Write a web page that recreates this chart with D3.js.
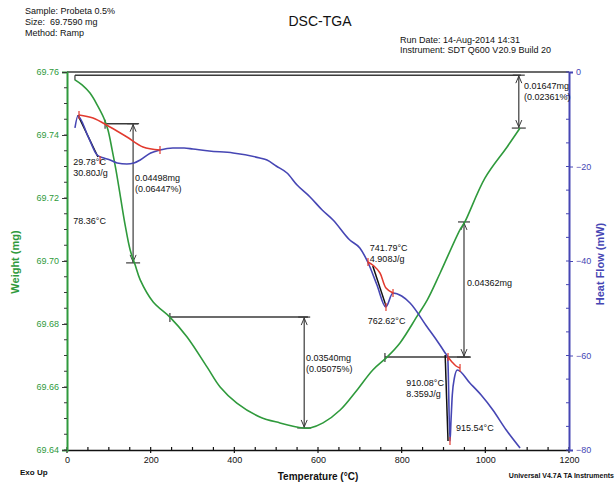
<!DOCTYPE html>
<html><head><meta charset="utf-8">
<script src="https://cdn.jsdelivr.net/npm/d3@7"></script>
<style>
html,body{margin:0;padding:0;background:#fff;}
svg{display:block;font-family:"Liberation Sans",Arial,sans-serif;}
</style></head>
<body><svg id="c" width="616" height="482"></svg>
<script>
// ---------- data ----------
const xTicks = [0, 200, 400, 600, 800, 1000, 1200];
const weightTicks = [69.64, 69.66, 69.68, 69.70, 69.72, 69.74, 69.76];
const heatTicks = [-80, -60, -40, -20, 0];

// TGA weight curve (mg) vs temperature (°C)
const tgaTemp = [19, 36, 55, 74, 88, 98, 108, 117, 127, 139, 151, 163, 175, 206, 246, 287, 335, 366, 406, 461, 509, 564, 581, 612, 653, 693, 731, 765, 796, 837, 861, 892, 939, 951, 999, 1052, 1083];
const tgaWeight = [69.7575, 69.7559, 69.7533, 69.7491, 69.7454, 69.7416, 69.7352, 69.7289, 69.7210, 69.7114, 69.7035, 69.6987, 69.6940, 69.6870, 69.6822, 69.6759, 69.6663, 69.6600, 69.6549, 69.6505, 69.6486, 69.6470, 69.6470, 69.6486, 69.6527, 69.6590, 69.6654, 69.6695, 69.6740, 69.6825, 69.6876, 69.6962, 69.7098, 69.7124, 69.7263, 69.7362, 69.7422];

// DSC heat flow curve (mW) vs temperature (°C)
const dscTemp = [19, 26, 50, 72, 88, 103, 120, 143, 160, 175, 200, 222, 253, 280, 301, 340, 397, 461, 478, 500, 526, 550, 581, 610, 636, 676, 700, 720, 741, 762, 779, 800, 820, 861, 880, 904, 910, 915.5, 918, 921, 926, 933, 963, 990, 1018, 1050, 1083];
const dscHeat = [-11.85, -9.31, -13.55, -17.57, -18.20, -18.62, -19.26, -19.47, -19.26, -18.62, -17.14, -16.51, -16.08, -16.08, -16.30, -16.72, -17.14, -18.20, -18.62, -19.89, -21.38, -23.92, -26.45, -29.21, -31.32, -35.56, -37.25, -40.42, -45.08, -49.74, -46.77, -47.41, -48.89, -53.97, -56.30, -59.47, -60.32, -78.10, -73.65, -68.36, -64.76, -63.07, -65.82, -68.36, -71.53, -75.77, -79.58];

// integration baselines (red) and onset tangents (black)
const base1Temp = [28.7, 62.2, 102.8, 143.4, 181.7, 222.3];
const base1Heat = [-9.10, -9.74, -11.64, -13.76, -15.87, -16.51];
const base2Temp = [719.5, 733.8, 748.2, 762.5, 779.3];
const base2Heat = [-40.21, -41.06, -42.54, -45.71, -46.77];
const base3Temp = [910.8, 920.3, 929.9, 939.5];
const base3Heat = [-60.32, -61.38, -62.22, -62.65];
const tangentTemp = [[26, 74], [731, 762.5], [904, 910.8]];
const tangentHeat = [[-9.1, -18.0], [-41.06, -49.5], [-59.9, -78.1]];
const markTemp = [28.7, 79, 222.3, 719.5, 762.5, 779.3, 910.8, 915.5, 939.5];
const markHeat = [-9.10, -18.6, -16.51, -40.21, -49.74, -46.77, -60.32, -78.1, -62.65];

// weight-step annotations
const stepStart = [19, 91, 246, 760];
const stepEnd = [1085, 170, 576, 963];
const stepArrowT = [1080, 158, 567, 949];
const stepTopW = [69.759, 69.7436, 69.6822, 69.7124];
const stepBotW = [69.7422, 69.6994, 69.647, 69.6695];
const stepLevelW = [69.759, 69.7436, 69.6822, 69.6695];
const stepLabel1 = ["0.01647mg", "0.04498mg", "0.03540mg", "0.04362mg"];
const stepLabel2 = ["(0.02361%)", "(0.06447%)", "(0.05075%)", ""];

// peak annotations
const peakText = [["29.78°C", "30.80J/g"], ["78.36°C"], ["741.79°C", "4.908J/g"], ["762.62°C"], ["910.08°C", "8.359J/g"], ["915.54°C"]];
const peakTextT = [15, 15, 724, 719, 811, 930];
const peakTextH = [-19.7, -32.2, -37.9, -53.3, -66.5, -76.0];

// ---------- drawing ----------
const svg = d3.select("#c");
const L = 67, R = 569, T = 72, B = 450;
const x = d3.scaleLinear().domain([0, 1200]).range([L, R]);
const yW = d3.scaleLinear().domain([69.64, 69.76]).range([B, T]);
const yH = d3.scaleLinear().domain([-80, 0]).range([B, T]);

const GREEN = "#2f9a3c", BLUE = "#4646b4", RED = "#e23a2e", DARK = "#3a3a3a";

// header texts
const hdr = svg.append("g").attr("font-size", 9).attr("fill", "#111");
hdr.append("text").attr("x", 25).attr("y", 14).text("Sample: Probeta 0.5%");
hdr.append("text").attr("x", 25).attr("y", 25).attr("xml:space", "preserve").text("Size:  69.7590 mg");
hdr.append("text").attr("x", 25).attr("y", 36).text("Method: Ramp");
svg.append("text").attr("x", 320).attr("y", 26).attr("text-anchor", "middle").attr("font-size", 14).attr("fill", "#111").text("DSC-TGA");
hdr.append("text").attr("x", 400).attr("y", 43).text("Run Date: 14-Aug-2014 14:31");
hdr.append("text").attr("x", 400).attr("y", 53).text("Instrument: SDT Q600 V20.9 Build 20");

// top frame line
svg.append("line").attr("x1", L).attr("x2", R).attr("y1", T).attr("y2", T).attr("stroke", DARK).attr("stroke-width", 1.5);

// bottom axis
const xAx = svg.append("g").attr("transform", `translate(0,${B})`)
  .call(d3.axisBottom(x).tickValues(xTicks).tickSize(0).tickPadding(7).tickFormat(d3.format("d")));
xAx.select(".domain").attr("stroke", "#111").attr("stroke-width", 1.5);
xAx.selectAll("text").attr("font-size", 9).attr("fill", "#111").attr("font-family", "Liberation Sans, Arial, sans-serif");
const xMinor = d3.range(0, 1201, 50);
svg.append("g").selectAll("line").data(xMinor).join("line")
  .attr("x1", d => x(d)).attr("x2", d => x(d))
  .attr("y1", B - 3).attr("y2", d => d % 200 === 0 ? B + 3 : B)
  .attr("stroke", "#111").attr("stroke-width", 1.2);

// left axis (weight)
const yAxL = svg.append("g").attr("transform", `translate(${L},0)`)
  .call(d3.axisLeft(yW).tickValues(weightTicks).tickSize(5).tickPadding(3).tickFormat(d3.format(".2f")));
yAxL.select(".domain").attr("stroke", GREEN).attr("stroke-width", 2);
yAxL.selectAll(".tick line").attr("stroke", DARK);
yAxL.selectAll("text").attr("font-size", 9).attr("fill", GREEN).attr("font-family", "Liberation Sans, Arial, sans-serif");
svg.append("g").selectAll("line").data(d3.range(0, 24).map(i => 69.64 + i * 0.005)).join("line")
  .attr("x1", L - 3).attr("x2", L).attr("y1", d => yW(d)).attr("y2", d => yW(d)).attr("stroke", DARK).attr("stroke-width", 1);

// right axis (heat flow)
const yAxR = svg.append("g").attr("transform", `translate(${R},0)`)
  .call(d3.axisRight(yH).tickValues(heatTicks).tickSize(4).tickPadding(3));
yAxR.select(".domain").attr("stroke", BLUE).attr("stroke-width", 2);
yAxR.selectAll(".tick line").attr("stroke", BLUE);
yAxR.selectAll("text").attr("font-size", 9).attr("fill", BLUE).attr("font-family", "Liberation Sans, Arial, sans-serif");
svg.append("g").selectAll("line").data(d3.range(-80, 1, 5)).join("line")
  .attr("x1", R - 3).attr("x2", R).attr("y1", d => yH(d)).attr("y2", d => yH(d)).attr("stroke", BLUE).attr("stroke-width", 1);

// axis titles
svg.append("text").attr("transform", "translate(19,262) rotate(-90)").attr("text-anchor", "middle")
  .attr("font-size", 11).attr("font-weight", "bold").attr("fill", GREEN).text("Weight (mg)");
svg.append("text").attr("transform", "translate(604,264) rotate(-90)").attr("text-anchor", "middle")
  .attr("font-size", 11).attr("font-weight", "bold").attr("fill", BLUE).text("Heat Flow (mW)");
svg.append("text").attr("x", 318).attr("y", 480).attr("text-anchor", "middle").attr("font-size", 10).attr("font-weight", "bold").attr("fill", "#111").text("Temperature (°C)");
svg.append("text").attr("x", 20).attr("y", 475).attr("font-size", 8).attr("font-weight", "bold").attr("fill", "#111").text("Exo Up");
svg.append("text").attr("x", 614).attr("y", 478).attr("text-anchor", "end").attr("font-size", 7).attr("font-weight", "bold").attr("fill", "#111").text("Universal V4.7A TA Instruments");

// curves
const lineW = d3.line().x(d => x(d[0])).y(d => yW(d[1])).curve(d3.curveCatmullRom);
const lineH = d3.line().x(d => x(d[0])).y(d => yH(d[1])).curve(d3.curveCatmullRom);
const lineHlin = d3.line().x(d => x(d[0])).y(d => yH(d[1]));

// annotation steps
const ann = svg.append("g").attr("stroke", DARK).attr("stroke-width", 1.5).attr("fill", "none");
function arrowHead(g, cx, cy, dir) {
  g.append("path").attr("d", `M${cx - 3},${cy - dir * 7}L${cx},${cy}L${cx + 3},${cy - dir * 7}`).attr("stroke-width", 1);
}
stepStart.forEach((s, i) => {
  const yl = yW(stepLevelW[i]);
  ann.append("line").attr("x1", x(s)).attr("x2", x(stepEnd[i])).attr("y1", yl).attr("y2", yl);
  ann.append("line").attr("x1", x(s)).attr("x2", x(s)).attr("y1", yl - (i === 0 ? 0 : 4)).attr("y2", yl + 5).attr("stroke-width", 1.2);
  const ax = x(stepArrowT[i]), yt = yW(stepTopW[i]), yb = yW(stepBotW[i]);
  ann.append("line").attr("x1", ax).attr("x2", ax).attr("y1", yt).attr("y2", yb).attr("stroke-width", 1.2);
  arrowHead(ann, ax, yt + 1, -1);
  arrowHead(ann, ax, yb - 1, 1);
  ann.append("line").attr("x1", ax - 7).attr("x2", ax + 7).attr("y1", yb).attr("y2", yb).attr("stroke-width", 1.2);
  ann.append("line").attr("x1", ax - 6).attr("x2", ax + 6).attr("y1", yt).attr("y2", yt).attr("stroke-width", 1.2);
});
const stepTextX = [524, 135, 306, 467];
const stepTextY = [89, 181, 361, 286];
const stxt = svg.append("g").attr("font-size", 9).attr("fill", "#111");
stepLabel1.forEach((t, i) => {
  stxt.append("text").attr("x", stepTextX[i]).attr("y", stepTextY[i]).text(t);
  if (stepLabel2[i]) stxt.append("text").attr("x", stepTextX[i]).attr("y", stepTextY[i] + 11).text(stepLabel2[i]);
});

// TGA curve
svg.append("path").datum(d3.zip(tgaTemp, tgaWeight)).attr("d", lineW)
  .attr("fill", "none").attr("stroke", GREEN).attr("stroke-width", 1.6);

// tangents
const tg = svg.append("g").attr("stroke", "#111").attr("stroke-width", 1.5).attr("fill", "none");
tangentTemp.forEach((tt, i) => tg.append("path").datum(d3.zip(tt, tangentHeat[i])).attr("d", lineHlin));

// DSC curve
svg.append("path").datum(d3.zip(dscTemp, dscHeat)).attr("d", d3.line().x(d => x(d[0])).y(d => yH(d[1])).curve(d3.curveMonotoneX))
  .attr("fill", "none").attr("stroke", BLUE).attr("stroke-width", 1.6);

// baselines
const bl = svg.append("g").attr("stroke", RED).attr("stroke-width", 1.5).attr("fill", "none");
[[base1Temp, base1Heat], [base2Temp, base2Heat], [base3Temp, base3Heat]].forEach(([t, h]) =>
  bl.append("path").datum(d3.zip(t, h)).attr("d", lineH));
bl.selectAll("line.m").data(d3.zip(markTemp, markHeat)).join("line").attr("class", "m")
  .attr("x1", d => x(d[0])).attr("x2", d => x(d[0])).attr("y1", d => yH(d[1]) - 4).attr("y2", d => yH(d[1]) + 4).attr("stroke-width", 1.2);

// peak texts
const ptx = svg.append("g").attr("font-size", 9).attr("fill", "#111");
peakText.forEach((lines, i) => {
  lines.forEach((t, j) => ptx.append("text").attr("x", x(peakTextT[i])).attr("y", yH(peakTextH[i]) + j * 11).text(t));
});
</script></body></html>
